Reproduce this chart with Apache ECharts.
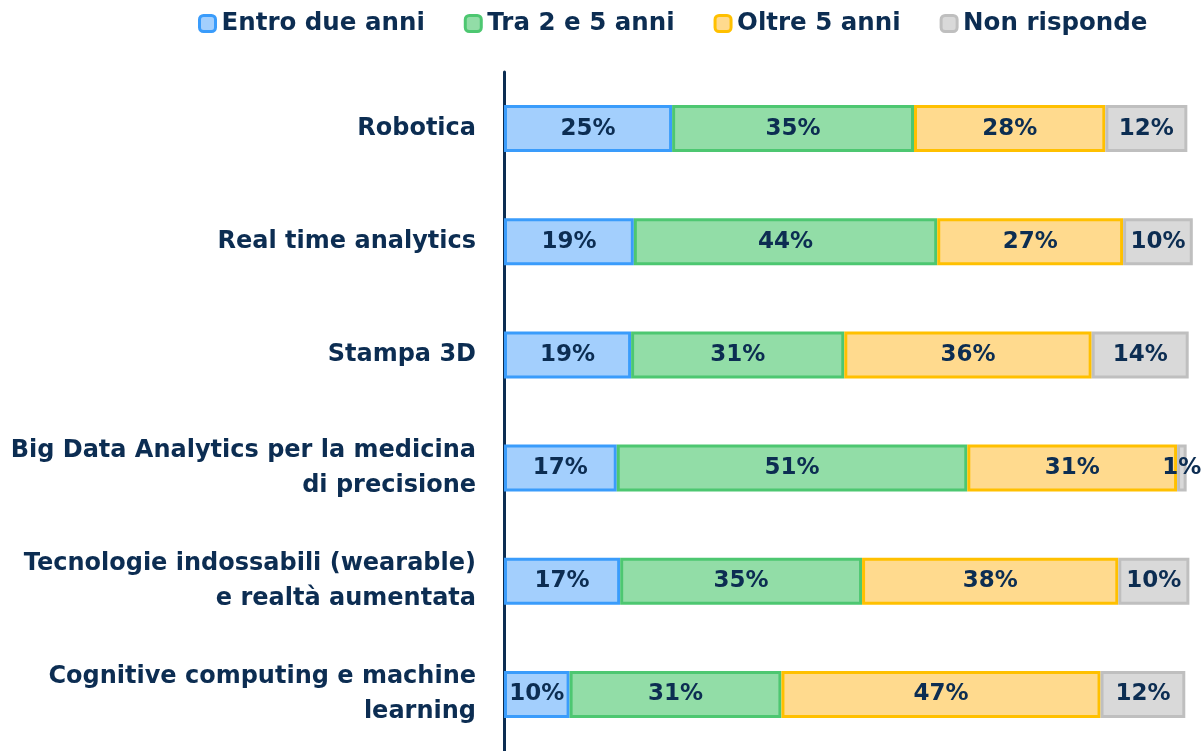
<!DOCTYPE html>
<html><head><meta charset="utf-8">
<script src="https://cdn.jsdelivr.net/npm/echarts@6/dist/echarts.min.js"></script>
<style>html,body{margin:0;padding:0;background:#fff}#c{width:1202px;height:751px}</style>
</head><body><div id="c"></div>
<script>
const categories = ["Robotica","Real time analytics","Stampa 3D","Big Data Analytics per la medicina\ndi precisione","Tecnologie indossabili (wearable)\ne realtà aumentata","Cognitive computing e machine\nlearning"];
const seriesNames = ["Entro due anni","Tra 2 e 5 anni","Oltre 5 anni","Non risponde"];
const entro = [24.6, 19.0, 18.6, 16.5, 17.0, 9.6];
const tra = [35.4, 44.4, 31.2, 51.3, 35.4, 31.0];
const oltre = [28.0, 27.2, 36.2, 30.7, 37.5, 46.7];
const nonRisp = [12.0, 10.2, 14.2, 1.4, 10.4, 12.4];
const fills = ["#a3cffd","#92dda7","#ffda8e","#d9d9d9"];
const borders = ["#3a9cfb","#4dc771","#ffc000","#bfbfbf"];
const textColor = "#0c2d52";
const font = "DejaVu Sans";
const all = [entro, tra, oltre, nonRisp];
const chart = echarts.init(document.getElementById('c'));
chart.setOption({
  animation:false,
  legend:{top:6,left:193,itemWidth:16,itemHeight:16,itemGap:39,
    textStyle:{fontFamily:font,fontWeight:'bold',fontSize:24.5,color:textColor,padding:[0,0,0,1]},
    data:seriesNames.map((n,i)=>({name:n,icon:'roundRect',itemStyle:{color:fills[i],borderColor:borders[i],borderWidth:3}}))},
  grid:{left:504,top:72,width:697,height:684},
  xAxis:{type:'value',min:0,max:102,show:false},
  yAxis:{type:'category',inverse:true,data:categories,
    axisLine:{show:true,lineStyle:{color:textColor,width:3}},axisTick:{show:false},
    axisLabel:{fontFamily:font,fontWeight:'bold',fontSize:24,color:textColor,margin:28,lineHeight:35,align:'right'}},
  series:all.map((d,i)=>({name:seriesNames[i],type:'bar',stack:'t',barWidth:47,data:d,
    itemStyle:{color:fills[i],borderColor:borders[i],borderWidth:3},
    label:{show:true,position:'inside',fontFamily:font,fontWeight:'bold',fontSize:23,color:textColor,
      formatter:p=>Math.round(p.value)+'%'}}))
});
</script></body></html>
